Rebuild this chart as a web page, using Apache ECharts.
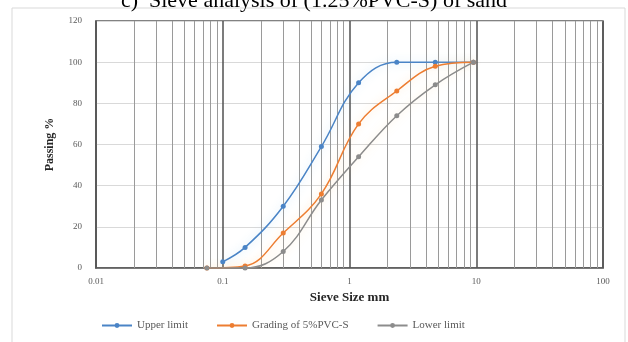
<!DOCTYPE html>
<html><head><meta charset="utf-8">
<script src="https://cdn.jsdelivr.net/npm/echarts@6/dist/echarts.min.js"></script>
<style>html,body{margin:0;padding:0;background:#fff}#c{width:628px;height:342px}</style>
</head><body><div id="c"></div>
<script>
const titleText = 'c)  Sieve analysis of (1.25%PVC-S) of sand';
const seriesNames = ['Upper limit', 'Grading of 5%PVC-S', 'Lower limit'];
const upperX = [0.1, 0.15, 0.3, 0.6, 1.18, 2.36, 4.75, 9.5];
const upperY = [3, 10, 30, 59, 90, 100, 100, 100];
const gradingX = [0.075, 0.15, 0.3, 0.6, 1.18, 2.36, 4.75, 9.5];
const gradingY = [0, 1, 17, 36, 70, 86, 98, 100];
const lowerX = [0.075, 0.15, 0.3, 0.6, 1.18, 2.36, 4.75, 9.5];
const lowerY = [0, 0, 8, 33, 54, 74, 89, 100];
const xTickLabels = ['0.01', '0.1', '1', '10', '100'];
const yTicks = [0, 20, 40, 60, 80, 100, 120];
const minorGrid = [];
[0.01, 0.1, 1, 10].forEach(d => { for (let k = 2; k <= 9; k++) minorGrid.push(+(d * k).toPrecision(3)); });

const colors = ['#4a84c6', '#ed7d31', '#8c8c8c'];
const glows = ['rgba(140,200,240,0.45)', 'rgba(255,190,120,0.45)', 'rgba(255,200,120,0.35)'];
const font = 'Liberation Serif';
const pair = (xs, ys) => xs.map((x, i) => [x, ys[i]]);

function mkSeries(i, data) {
  return {
    name: seriesNames[i], type: 'line', data, smooth: 0.4,
    symbol: 'circle', symbolSize: 5,
    itemStyle: { color: colors[i] },
    lineStyle: { color: colors[i], width: 1.5, shadowBlur: 8, shadowColor: glows[i] },
    z: 5
  };
}

const chart = echarts.init(document.getElementById('c'), null, { renderer: 'canvas' });
const series = [
  mkSeries(0, pair(upperX, upperY)),
  mkSeries(1, pair(gradingX, gradingY)),
  mkSeries(2, pair(lowerX, lowerY)),
  {
    name: 'minor', type: 'line', data: [], silent: true, z: 1,
    markLine: {
      silent: true, symbol: 'none', label: { show: false },
      lineStyle: { color: '#9a9a9a', width: 1, type: 'solid' },
      data: minorGrid.map(v => ({ xAxis: v }))
    }
  }
];

chart.setOption({
  animation: false,
  color: colors,
  graphic: [{ type: 'rect', shape: { x: 12, y: 8, width: 613, height: 340 }, style: { fill: 'none', stroke: '#d9d9d9', lineWidth: 1 }, z: -10 }],
  title: {
    text: titleText, left: 'center', top: -15,
    textStyle: { fontFamily: font, fontSize: 22, fontWeight: 'normal', color: '#000' }
  },
  legend: {
    data: seriesNames, left: 96, top: 315, itemGap: 28, itemWidth: 30, itemHeight: 6,
    textStyle: { fontFamily: font, fontSize: 11, color: '#595959' }
  },
  grid: { left: 96, right: 25, top: 21, bottom: 74, containLabel: false, show: true, borderColor: '#595959', borderWidth: 1.5 },
  xAxis: {
    type: 'log', logBase: 10, min: 0.01, max: 100,
    name: 'Sieve Size mm', nameLocation: 'middle', nameGap: 20,
    nameTextStyle: { fontFamily: font, fontSize: 13, fontWeight: 'bold', color: '#262626' },
    axisLine: { show: true, lineStyle: { color: '#595959', width: 1.5 } },
    axisTick: { show: false },
    axisLabel: { fontFamily: font, fontSize: 9, color: '#595959', margin: 9,
      formatter: v => { const s = xTickLabels.find(t => Math.abs(parseFloat(t) - v) / v < 1e-6); return s || ''; } },
    splitLine: { show: true, lineStyle: { color: '#505050', width: 1.5 } }
  },
  yAxis: {
    type: 'value', min: yTicks[0], max: yTicks[yTicks.length - 1], interval: 20,
    name: 'Passing %', nameLocation: 'middle', nameGap: 40, nameRotate: 90,
    nameTextStyle: { fontFamily: font, fontSize: 12, fontWeight: 'bold', color: '#262626' },
    axisLine: { show: true, lineStyle: { color: '#595959', width: 1.5 } },
    axisTick: { show: false },
    axisLabel: { fontFamily: font, fontSize: 9, color: '#595959', margin: 14 },
    splitLine: { show: true, lineStyle: { color: '#d9d9d9', width: 1 } }
  },
  series
});
</script></body></html>
